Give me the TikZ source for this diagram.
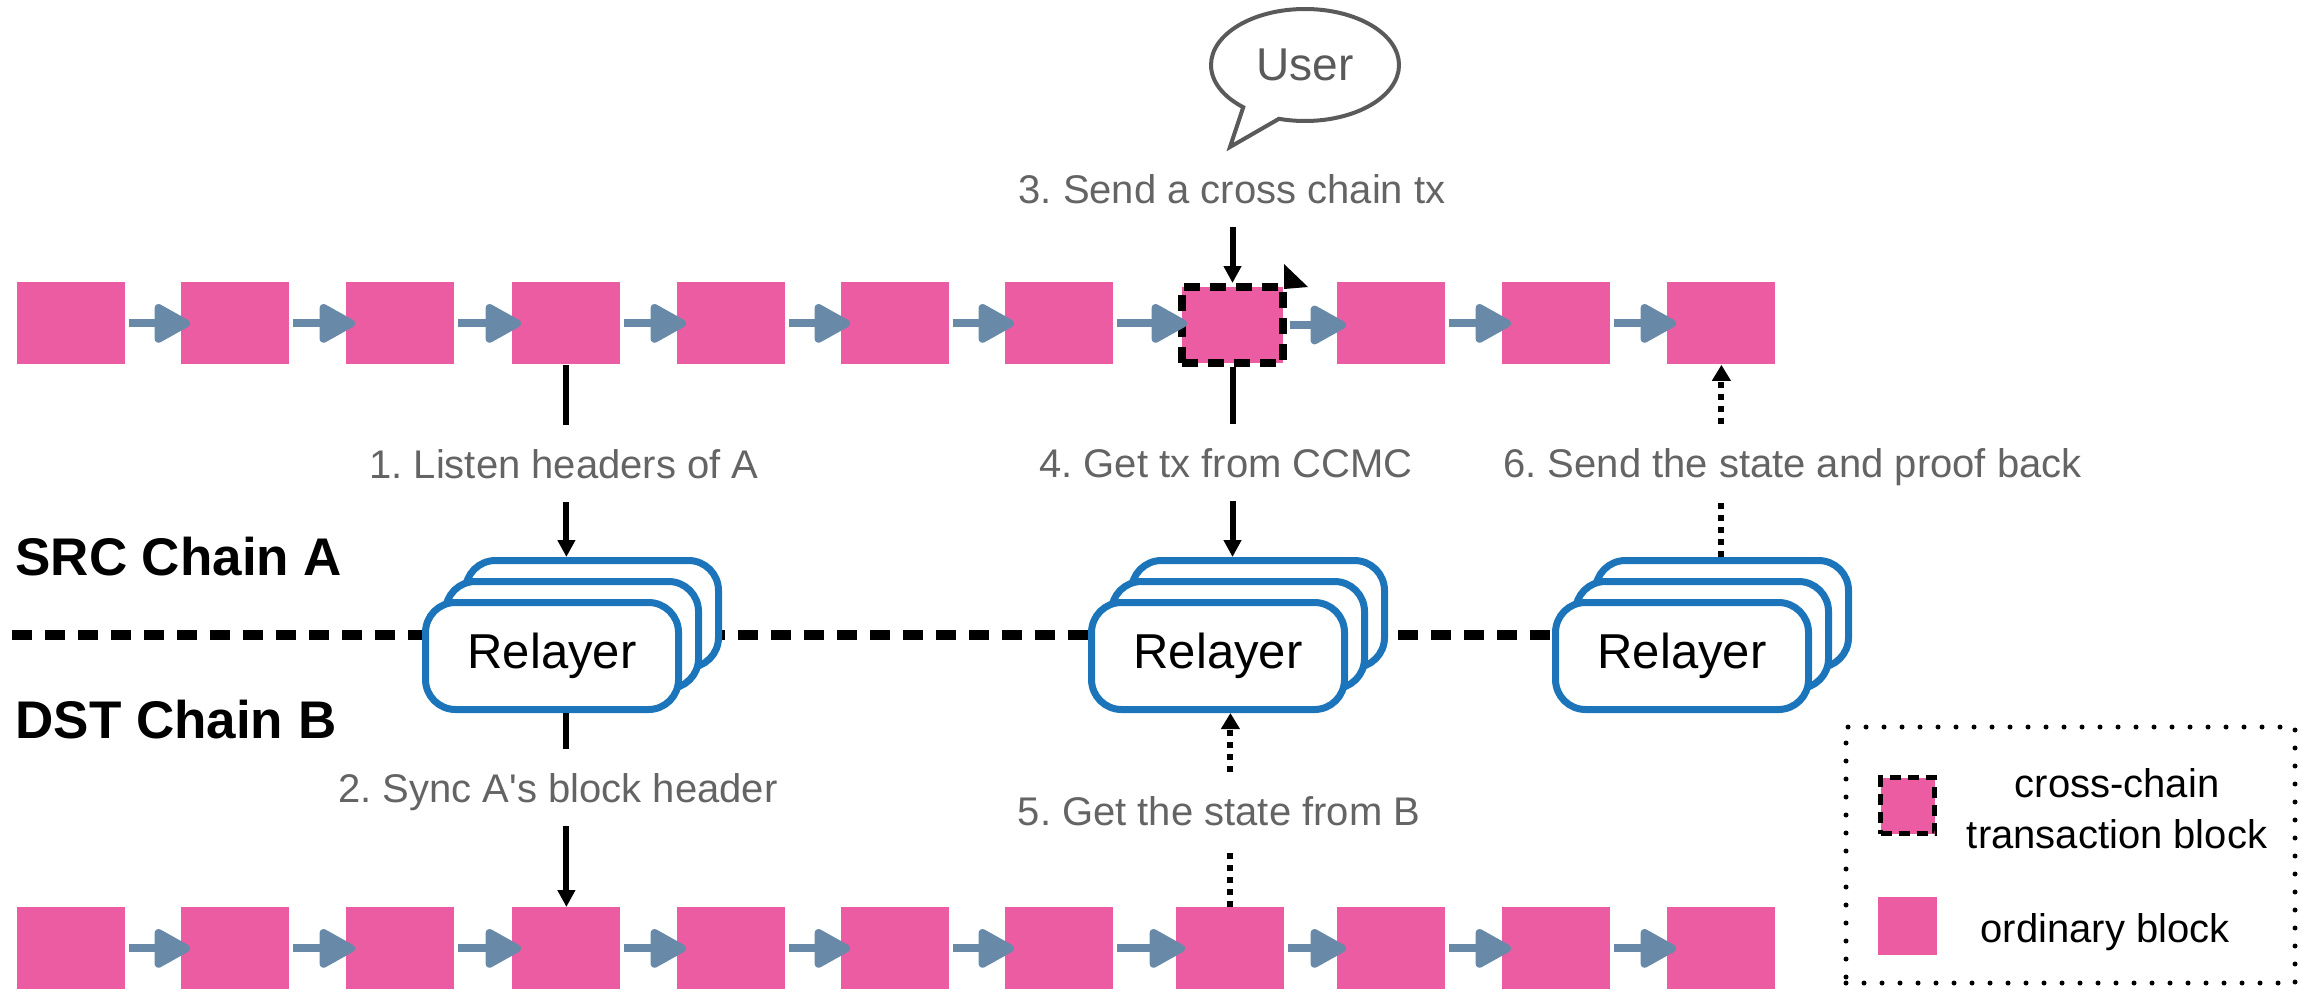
\documentclass[tikz,border=0pt]{standalone}
\usepackage{fontspec}
\setmainfont{Liberation Sans}
\newfontfamily\plainsans{Liberation Sans}
\usetikzlibrary{arrows.meta,shapes.callouts,shapes.geometric,backgrounds}

\definecolor{blockpink}{RGB}{236,92,162}
\definecolor{chainarrow}{RGB}{104,138,168}
\definecolor{relblue}{RGB}{28,117,186}
\definecolor{labelgray}{RGB}{100,100,100}
\definecolor{bubblegray}{RGB}{90,90,90}

\begin{document}
\frenchspacing
\begin{tikzpicture}[x=0.5pt,y=-0.5pt,
  blk/.style={fill=blockpink, minimum width=54pt, minimum height=41pt, inner sep=0pt, anchor=north west},
  ccblk/.style={blk, draw=black, line width=4pt, dash pattern=on 8pt off 5pt, minimum width=50.5pt, minimum height=38pt},
  link/.style={draw=chainarrow, line width=4pt, -{Triangle[length=20pt,width=21pt,round]}, shorten >=-4.5pt, shorten <=1.5pt},
  relay/.style={draw=relblue, line width=3.5pt, fill=white, rounded corners=15pt, minimum width=126.5pt, minimum height=53.5pt, inner sep=0pt, font=\fontsize{24.5pt}{28pt}\selectfont},
  lab/.style={text=labelgray, font=\fontsize{20pt}{24pt}\selectfont, text height=14.5pt, text depth=0pt, inner xsep=0pt, inner ysep=12pt, anchor=base},
  chainname/.style={anchor=base west, inner sep=0pt, font=\fontsize{26.5pt}{30pt}\selectfont\bfseries},
  solidarrow/.style={line width=3pt, -{Triangle[length=8.5pt,width=8.5pt]}},
  solidline/.style={line width=3pt},
  dotline/.style={line width=3pt, dash pattern=on 3pt off 3pt},
  dotarrow/.style={dotline, -{Triangle[length=8pt,width=9pt]}},
  divider/.style={line width=5pt, dash pattern=on 10pt off 6.5pt},
  legendbox/.style={draw, line width=2.5pt, line cap=round, dash pattern=on 0pt off 9pt, minimum width=224.5pt, minimum height=128pt, inner sep=0pt},
  legtext/.style={font=\fontsize{20pt}{25pt}\selectfont, inner sep=0pt, anchor=base, align=center}
]
\useasboundingbox (0,0) rectangle (2305,995);

% ---------- chains ----------
\foreach \xx [count=\i from 0] in {17,181,346,512,677,841,1005,1176,1337,1502,1667} {
  \node[blk] (b\i) at (\xx,907) {};
  \ifnum\i=7\relax\else\node[blk] (t\i) at (\xx,282) {};\fi
}
\node[ccblk] (t7) at (1178,283) {};
\fill (1284,264) -- (1308,287) -- (1284,289) -- cycle;

\foreach \i [evaluate=\i as \j using int(\i+1)] in {0,...,9} {
  \draw[link] (t\i.east) -- (t\i.east -| t\j.west);
  \draw[link] (b\i.east) -- (b\i.east -| b\j.west);
}

% ---------- chain names ----------
\node[chainname] (src) at (15,575) {SRC Chain A};
\node[chainname] (dst) at (15,738) {DST Chain B};

% ---------- relayers ----------
\node[relay] (r1b) at (592,614) {};
\node[relay] (r1m) at (572,635) {};
\node[relay] (r1)  at (552,656) {Relayer};

\node[relay] (r2b) at (1258,614) {};
\node[relay] (r2m) at (1238,635) {};
\node[relay] (r2)  at (1218,656) {Relayer};

\node[relay] (r3b) at (1722,614) {};
\node[relay] (r3m) at (1702,635) {};
\node[relay] (r3)  at (1682,656) {Relayer};

\begin{scope}[on background layer]
  \coordinate (divstart) at (12,635);
  \draw[divider] (divstart) -- (divstart -| r3.west);
\end{scope}

% ---------- user ----------
\node[ellipse callout, draw=bubblegray, line width=2pt, fill=white,
      minimum width=94pt, minimum height=56pt, inner sep=0pt,
      callout absolute pointer={(1230,147)}, callout pointer arc=25,
      text=bubblegray, font=\fontsize{23pt}{27pt}\selectfont] (user) at (1305,65) {User};

% ---------- step labels ----------
\node[lab] (l1) at (564,478) {1. Listen headers of A};
\node[lab] (l2) at (558,802) {2. Sync {\plainsans A's} block header};
\node[lab] (l3) at (1232,203) {3. Send a cross chain tx};
\node[lab] (l4) at (1226,477) {4. Get tx from CCMC};
\node[lab] (l5) at (1219,825) {5. Get the state from B};
\node[lab, anchor=base west] (l6) at (1503,477) {6. Send the state and proof back};

% ---------- step connectors ----------
\draw[solidline] (t3.south) -- (t3.south |- l1.north);
\draw[solidarrow] (t3.south |- l1.south) -- (t3.south |- r1b.north);

\draw[solidline] (b3.north |- r1.south) -- (b3.north |- l2.north);
\draw[solidarrow] (b3.north |- l2.south) -- (b3.north);

\draw[solidarrow] (t7.north |- l3.south) -- (t7.north);

\draw[solidline] (t7.south) -- (t7.south |- l4.north);
\draw[solidarrow] (t7.south |- l4.south) -- (t7.south |- r2b.north);

\draw[dotline] (b7.north) -- (b7.north |- l5.south);
\draw[dotarrow] (b7.north |- l5.north) -- (b7.north |- r2.south);

\draw[dotline] (t10.south |- r3b.north) -- (t10.south |- l6.south);
\draw[dotarrow] (t10.south |- l6.north) -- (t10.south);

% ---------- legend ----------
\node[legendbox] (legend) at (2070.5,855) {};
\node[blk, draw=black, line width=2.5pt, dash pattern=on 5.5pt off 3.5pt, minimum width=27pt, minimum height=28pt, anchor=center] (legcc) at (1907.5,805.5) {};
\node[blk, minimum width=29.5pt, minimum height=29pt, anchor=center] (legord) at (1907.5,926) {};
\node[legtext] (legcctext1) at (2117,797) {cross-chain};
\node[legtext] (legcctext2) at (2117,848) {transaction block};
\node[legtext] (legordtext) at (2105,942) {ordinary block};
\end{tikzpicture}
\end{document}
